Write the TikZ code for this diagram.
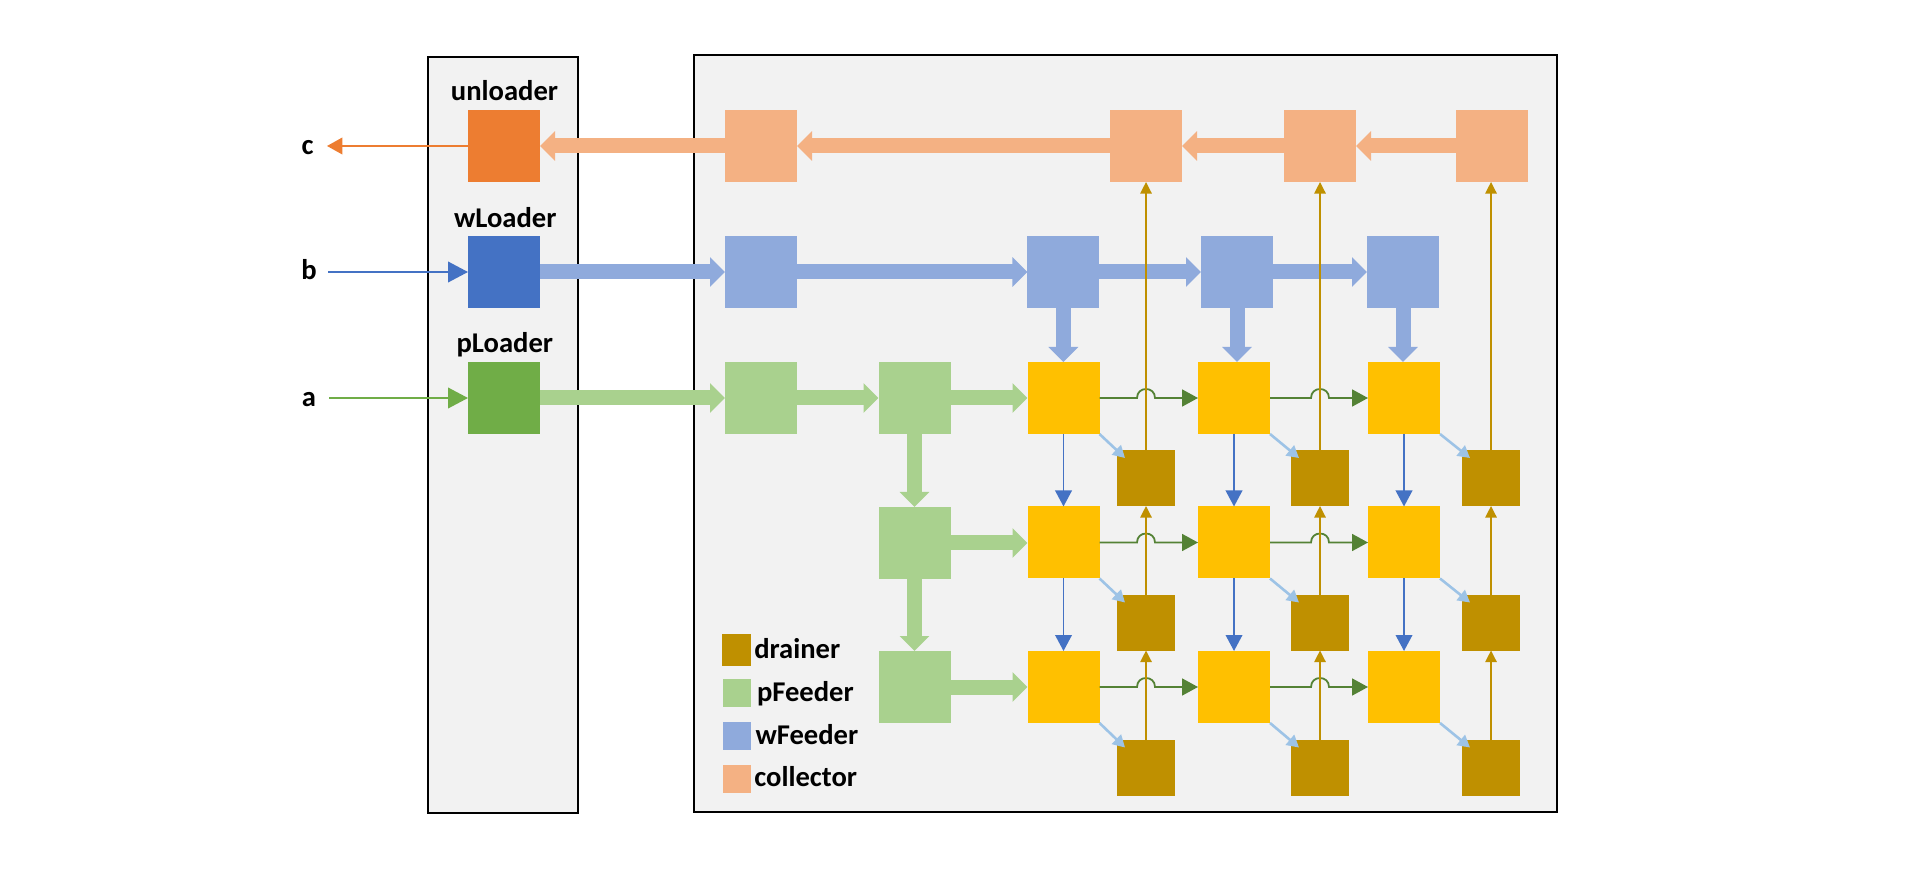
\documentclass[tikz,border=0pt]{standalone}
\usepackage{fontspec}
\setmainfont{Carlito}
\usetikzlibrary{arrows.meta,calc}
\definecolor{panelC}{HTML}{F2F2F2}
\definecolor{unlC}{HTML}{ED7D31}
\definecolor{wlC}{HTML}{4472C4}
\definecolor{plC}{HTML}{70AD47}
\definecolor{colC}{HTML}{F4B183}
\definecolor{wfC}{HTML}{8FAADC}
\definecolor{pfC}{HTML}{A9D18E}
\definecolor{peC}{HTML}{FFC000}
\definecolor{drC}{HTML}{BF9000}
\definecolor{grnC}{HTML}{548235}
\definecolor{lbC}{HTML}{9DC3E6}
\begin{document}
\begin{tikzpicture}[x=0.5pt,y=-0.5pt,
  every node/.style={inner sep=0pt,outer sep=0pt},
  panel/.style={draw=black,line width=1pt,fill=panelC,rectangle},
  box/.style={rectangle,minimum width=36pt,minimum height=36pt},
  drbox/.style={rectangle,fill=drC,minimum width=29pt,minimum height=28pt},
  lgbox/.style={rectangle,minimum width=14pt,minimum height=14pt},
  lbl/.style={font=\fontsize{14.3}{17}\selectfont\bfseries,text=black},
  blk/.style={line width=7.5pt,-{Triangle[length=7.5pt,width=14.5pt]}},
  inarr/.style={line width=1pt,-{Triangle[length=10pt,width=10.3pt]}},
  outarr/.style={line width=1pt,-{Triangle[length=7.7pt,width=8.3pt]}},
  grnarr/.style={draw=grnC,line width=0.9pt,-{Triangle[length=8pt,width=8.5pt]}},
  bluarr/.style={draw=wlC,line width=0.9pt,-{Triangle[length=8pt,width=8.3pt]}},
  lbarr/.style={draw=lbC,line width=1.3pt,-{Triangle[length=6pt,width=6.5pt]}},
  gldarr/.style={draw=drC,line width=0.85pt,-{Triangle[length=5.8pt,width=5.7pt]}}
]
\useasboundingbox (0,0) rectangle (1909,870);
\fill[white] (0,0) rectangle (1909,870);

% panels
\node[panel,minimum width=75pt,minimum height=378pt] (leftpanel) at (503,434.7) {};
\node[panel,minimum width=431.5pt,minimum height=378.5pt] (rightpanel) at (1125.5,433.5) {};

% loaders
\node[box,fill=unlC] (unl) at (504,146) {};
\node[box,fill=wlC] (wl) at (504,272) {};
\node[box,fill=plC] (pl) at (504,398) {};
\node[lbl,anchor=base] (unlT) at (504.5,100.7) {unloader};
\node[lbl,anchor=base] (wlT) at (505.3,227.5) {wLoader};
\node[lbl,anchor=base] (plT) at (504.8,353) {pLoader};
\node[lbl,anchor=base] (cT) at (307.5,155) {c};
\node[lbl,anchor=base] (bT) at (309,280) {b};
\node[lbl,anchor=base] (aT) at (309,407) {a};
\coordinate (cpt) at (327,146);
\coordinate (bpt) at (328,272);
\coordinate (apt) at (329,398);

% collectors
\node[box,fill=colC] (col1) at (761,146) {};
\node[box,fill=colC] (col2) at (1146,146) {};
\node[box,fill=colC] (col3) at (1320,146) {};
\node[box,fill=colC] (col4) at (1491.5,146) {};
% wFeeders
\node[box,fill=wfC] (wf1) at (761,272) {};
\node[box,fill=wfC] (wf2) at (1063.4,272) {};
\node[box,fill=wfC] (wf3) at (1237,272) {};
\node[box,fill=wfC] (wf4) at (1403,272) {};
% pFeeders
\node[box,fill=pfC] (pf1) at (761,398) {};
\node[box,fill=pfC] (pf2) at (914.5,398) {};
\node[box,fill=pfC] (pf3) at (914.5,543) {};
\node[box,fill=pfC] (pf4) at (914.5,687) {};
% PEs
\foreach \r/\y in {1/398,2/542.5,3/687}{
  \foreach \c/\x in {1/1063.5,2/1234,3/1404}{
    \node[box,fill=peC] (pe\r\c) at (\x,\y) {};
  }
}
% drainers
\foreach \r/\y in {1/478,2/622.5,3/767.5}{
  \foreach \c/\x in {1/1146,2/1320,3/1491}{
    \node[drbox] (dr\r\c) at (\x,\y) {};
  }
}

% legend
\node[lgbox,fill=drC,minimum width=14.5pt,minimum height=16pt] (lg1) at (736.5,650) {};
\node[lgbox,fill=pfC] (lg2) at (737,693) {};
\node[lgbox,fill=wfC] (lg3) at (737,736) {};
\node[lgbox,fill=colC] (lg4) at (737,779) {};
\node[lbl,anchor=base west] (lg1T) at (754.3,658) {drainer};
\node[lbl,anchor=base west] (lg2T) at (757,701) {pFeeder};
\node[lbl,anchor=base west] (lg3T) at (755.5,744.3) {wFeeder};
\node[lbl,anchor=base west] (lg4T) at (754.3,786.7) {collector};

% thin in/out arrows
\draw[outarr,draw=unlC] (unl.west) -- (cpt);
\draw[inarr,draw=wlC] (bpt) -- (wl.west);
\draw[inarr,draw=plC] (apt) -- (pl.west);

% block arrows: collectors
\draw[blk,draw=colC] (col1.west) -- (unl.east);
\draw[blk,draw=colC] (col2.west) -- (col1.east);
\draw[blk,draw=colC] (col3.west) -- (col2.east);
\draw[blk,draw=colC] (col4.west) -- (col3.east);
% block arrows: wFeeders
\draw[blk,draw=wfC] (wl.east) -- (wf1.west);
\draw[blk,draw=wfC] (wf1.east) -- (wf2.west);
\draw[blk,draw=wfC] (wf2.east) -- (wf3.west);
\draw[blk,draw=wfC] (wf3.east) -- (wf4.west);
\draw[blk,draw=wfC] (wf2.south) -- (wf2.south |- pe11.north);
\draw[blk,draw=wfC] (wf3.south) -- (wf3.south |- pe12.north);
\draw[blk,draw=wfC] (wf4.south) -- (wf4.south |- pe13.north);
% block arrows: pFeeders
\draw[blk,draw=pfC] (pl.east) -- (pf1.west);
\draw[blk,draw=pfC] (pf1.east) -- (pf2.west);
\draw[blk,draw=pfC] (pf2.east) -- (pe11.west);
\draw[blk,draw=pfC] (pf2.south) -- (pf3.north);
\draw[blk,draw=pfC] (pf3.east) -- (pf3.east -| pe21.west);
\draw[blk,draw=pfC] (pf3.south) -- (pf4.north);
\draw[blk,draw=pfC] (pf4.east) -- (pf4.east -| pe31.west);

% green row arrows with hops
\foreach \r in {1,2,3}{
  \foreach \c/\n in {1/2,2/3}{
    \draw[grnarr] (pe\r\c.east) -- ($(dr\r\c.center |- pe\r\c.east)+(-9,0)$)
      .. controls +(0,-12) and +(0,-12) .. ($(dr\r\c.center |- pe\r\c.east)+(9,0)$)
      -- (pe\r\n.west);
  }
}
% blue column arrows
\foreach \c in {1,2,3}{
  \draw[bluarr] (pe1\c.south) -- (pe2\c.north);
  \draw[bluarr] (pe2\c.south) -- (pe3\c.north);
}
% light blue diagonal arrows
\foreach \r in {1,2,3}{
  \foreach \c in {1,2,3}{
    \draw[lbarr] (pe\r\c.south east) -- ($(dr\r\c.north west)+(8,8)$);
  }
}
% gold upward arrows
\foreach \c/\k in {1/2,2/3,3/4}{
  \draw[gldarr] (dr1\c.north) -- (dr1\c.north |- col\k.south);
  \draw[gldarr] (dr2\c.north) -- (dr1\c.south);
  \draw[gldarr] (dr3\c.north) -- (dr2\c.south);
}
\end{tikzpicture}
\end{document}
